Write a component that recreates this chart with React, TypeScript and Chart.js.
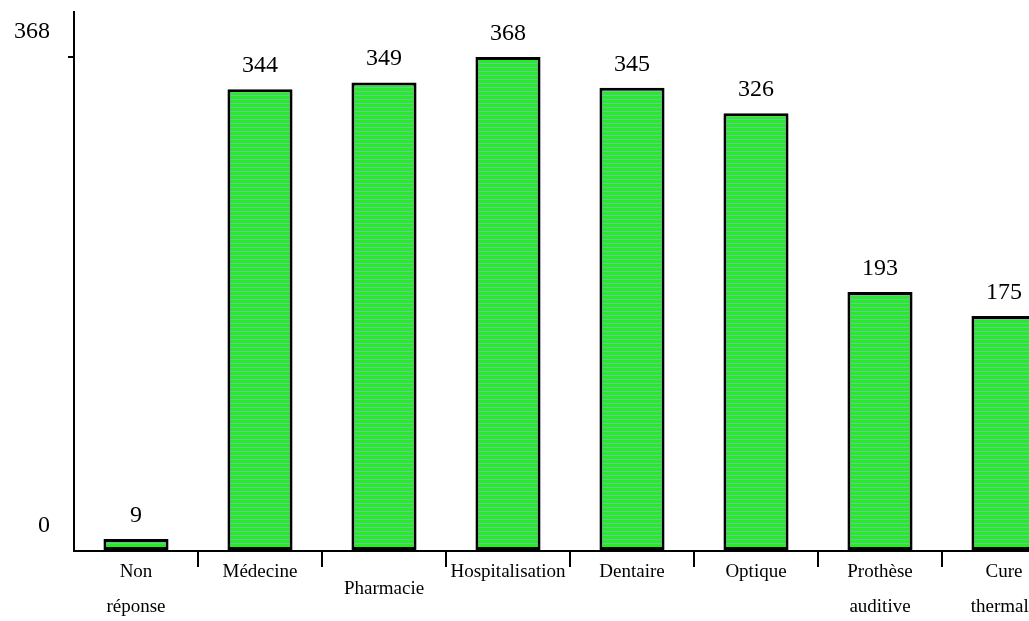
import React, { useEffect, useRef } from "react";
import { Chart, registerables } from "chart.js";

Chart.register(...registerables);

const categories: (string | string[])[] = [
  ["Non", "réponse"],
  ["Médecine", ""],
  "Pharmacie",
  ["Hospitalisation", ""],
  ["Dentaire", ""],
  ["Optique", ""],
  ["Prothèse", "auditive"],
  ["Cure", "thermale"],
];
const values: number[] = [9, 344, 349, 368, 345, 326, 193, 175];
const yTicks: number[] = [0, 368];
const yMax = 401.5;

const FONT = "'Liberation Serif', 'Times New Roman', serif";

function makePattern(): CanvasPattern | string {
  const c = document.createElement("canvas");
  c.width = 4;
  c.height = 4;
  const g = c.getContext("2d");
  if (!g) return "#22ee22";
  g.fillStyle = "#22ee22";
  g.fillRect(0, 0, 4, 4);
  g.fillStyle = "#78bcb4";
  g.fillRect(0, 3, 4, 1);
  const p = g.createPattern(c, "repeat");
  return p || "#22ee22";
}

const valueLabels = {
  id: "valueLabels",
  afterDatasetsDraw(chart: any) {
    const ctx = chart.ctx;
    const meta = chart.getDatasetMeta(0);
    ctx.save();
    ctx.font = `24px ${FONT}`;
    ctx.fillStyle = "#000";
    ctx.textAlign = "center";
    ctx.textBaseline = "alphabetic";
    meta.data.forEach((bar: any, i: number) => {
      ctx.fillText(String(values[i]), bar.x, bar.y - 17);
    });
    ctx.restore();
  },
};

export default function App() {
  const ref = useRef<HTMLCanvasElement>(null);

  useEffect(() => {
    if (!ref.current) return;
    const chart = new Chart(ref.current, {
      type: "bar",
      data: {
        labels: categories as any,
        datasets: [
          {
            data: values,
            backgroundColor: makePattern() as any,
            borderColor: "#000",
            borderWidth: 3,
            borderSkipped: false,
            categoryPercentage: 1,
            barPercentage: 0.525,
          },
        ],
      },
      options: {
        animation: false,
        responsive: true,
        maintainAspectRatio: false,
        layout: { padding: { top: 12, right: 14, left: 0, bottom: 0 } },
        plugins: {
          legend: { display: false },
          tooltip: { enabled: false },
          title: { display: false },
        },
        scales: {
          x: {
            offset: true,
            grid: {
              offset: true,
              drawOnChartArea: false,
              drawTicks: true,
              tickLength: 16,
              lineWidth: 2,
              color: (ctx: any) => (ctx.index === 0 ? "rgba(0,0,0,0)" : "#000"),
            },
            border: { display: true, color: "#000", width: 2 },
            ticks: {
              color: "#000",
              autoSkip: false,
              maxRotation: 0,
              minRotation: 0,
              crossAlign: "center",
              padding: 5,
              font: { family: FONT, size: 19, lineHeight: 35 / 19 },
            },
            afterFit: (scale: any) => {
              scale.height = 70;
              scale.paddingLeft = 0;
              scale.paddingRight = 0;
            },
          },
          y: {
            min: 0,
            max: yMax,
            afterBuildTicks: (scale: any) => {
              scale.ticks = yTicks.map((v) => ({ value: v }));
            },
            grid: {
              drawOnChartArea: false,
              drawTicks: true,
              tickLength: 6,
              lineWidth: 2,
              color: (ctx: any) =>
                ctx.tick && ctx.tick.value === 0 ? "rgba(0,0,0,0)" : "#000",
            },
            border: { display: true, color: "#000", width: 2 },
            ticks: {
              color: "#000",
              padding: 18,
              labelOffset: -25,
              font: { family: FONT, size: 24 },
              callback: (v: any) => String(v),
            },
            afterFit: (scale: any) => {
              scale.width = 74;
              scale.paddingTop = 0;
              scale.paddingBottom = 0;
            },
          },
        },
      },
      plugins: [valueLabels],
    });
    return () => chart.destroy();
  }, []);

  return (
    <div
      style={{
        position: "absolute",
        left: 0,
        top: 0,
        width: 1029,
        height: 621,
        overflow: "hidden",
        background: "#fff",
      }}
    >
      <div style={{ position: "relative", width: 1080, height: 621 }}>
        <canvas ref={ref} />
      </div>
    </div>
  );
}
